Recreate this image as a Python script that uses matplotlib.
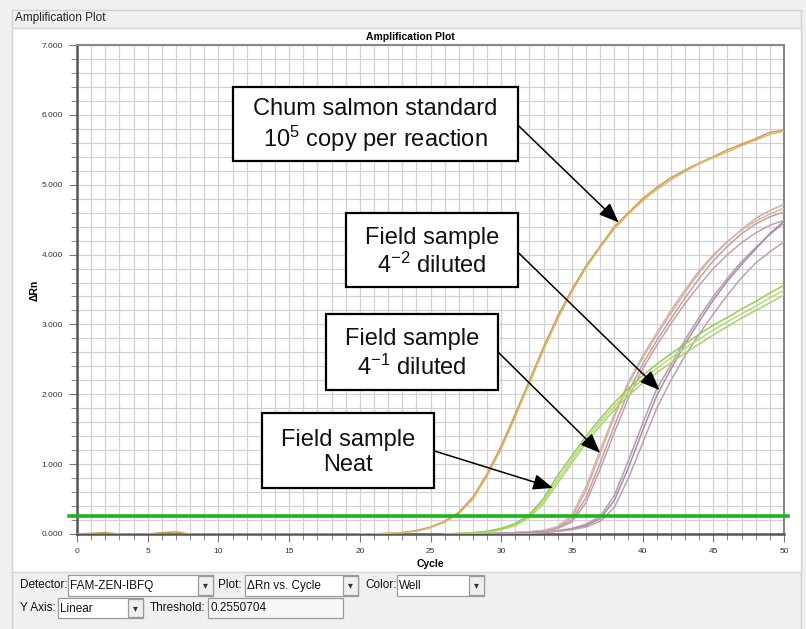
import matplotlib
matplotlib.use('Agg')
import matplotlib.pyplot as plt
from matplotlib.patches import Rectangle
from matplotlib.ticker import MultipleLocator, FormatStrFormatter
import numpy as np

plt.rcParams['font.family'] = ['Liberation Sans', 'DejaVu Sans']
plt.rcParams['mathtext.fontset'] = 'custom'
plt.rcParams['mathtext.rm'] = 'Liberation Sans'
plt.rcParams['mathtext.default'] = 'regular'

# --- data (delta Rn per cycle) ---
threshold = 0.2550704

# chum salmon standard, cycles 0..50 and 20..50
std_a = [0.00, 0.01, 0.02, 0.00, 0.00, 0.00, 0.02, 0.03, 0.00, 0.00, 0.00,
         0.00, 0.00, 0.00, 0.00, 0.00, 0.00, 0.00, 0.00, 0.00, 0.00,
         0.00, 0.01, 0.02, 0.05, 0.10, 0.18, 0.31, 0.53, 0.86, 1.26,
         1.72, 2.20, 2.68, 3.12, 3.50, 3.84, 4.12, 4.40, 4.60, 4.80,
         4.96, 5.10, 5.21, 5.31, 5.40, 5.50, 5.58, 5.66, 5.75, 5.78]
std_b = [0.00, 0.00, 0.01, 0.02, 0.04, 0.09, 0.17, 0.29, 0.50, 0.83, 1.22,
         1.68, 2.16, 2.64, 3.08, 3.47, 3.81, 4.10, 4.37, 4.58, 4.77,
         4.93, 5.07, 5.19, 5.30, 5.39, 5.47, 5.56, 5.64, 5.72, 5.77]

# field sample neat, cycles 26..50
neat_1 = [0.00, 0.01, 0.02, 0.04, 0.08, 0.15, 0.28, 0.51, 0.84, 1.12, 1.40,
          1.65, 1.88, 2.08, 2.27, 2.43, 2.58, 2.72, 2.86, 2.99, 3.10,
          3.22, 3.33, 3.45, 3.56]
neat_2 = [0.00, 0.00, 0.01, 0.03, 0.07, 0.14, 0.27, 0.48, 0.78, 1.07, 1.35,
          1.60, 1.83, 2.03, 2.21, 2.37, 2.52, 2.66, 2.79, 2.92, 3.04,
          3.15, 3.26, 3.38, 3.49]
neat_3 = [0.00, 0.00, 0.01, 0.02, 0.06, 0.12, 0.24, 0.44, 0.73, 1.02, 1.30,
          1.55, 1.78, 1.98, 2.16, 2.31, 2.45, 2.59, 2.72, 2.85, 2.97,
          3.09, 3.20, 3.31, 3.42]

# field sample 4^-1 diluted, cycles 28..50
dil1_a = [0.00, 0.01, 0.01, 0.02, 0.03, 0.05, 0.10, 0.24, 0.62, 1.15, 1.68,
          2.15, 2.52, 2.85, 3.16, 3.46, 3.74, 3.98, 4.18, 4.36, 4.52, 4.63, 4.72]
dil1_b = [0.00, 0.00, 0.01, 0.02, 0.03, 0.05, 0.09, 0.20, 0.52, 1.02, 1.55,
          2.04, 2.43, 2.77, 3.08, 3.38, 3.66, 3.91, 4.12, 4.30, 4.44, 4.54, 4.61]
dil1_c = [0.00, 0.00, 0.01, 0.01, 0.02, 0.04, 0.08, 0.17, 0.45, 0.93, 1.45,
          1.95, 2.36, 2.70, 3.01, 3.30, 3.56, 3.80, 4.00, 4.17, 4.31, 4.42, 4.49]
dil1_d = [0.00, 0.01, 0.01, 0.02, 0.03, 0.05, 0.11, 0.27, 0.68, 1.20, 1.72,
          2.18, 2.55, 2.88, 3.20, 3.50, 3.77, 4.00, 4.19, 4.35, 4.48, 4.58, 4.66]

# field sample 4^-2 diluted, cycles 28..50
dil2_a = [0.00, 0.00, 0.01, 0.01, 0.02, 0.03, 0.05, 0.08, 0.14, 0.25, 0.55,
          1.05, 1.58, 2.08, 2.42, 2.78, 3.10, 3.40, 3.66, 3.90, 4.10, 4.29, 4.45]
dil2_b = [0.00, 0.00, 0.01, 0.01, 0.02, 0.03, 0.04, 0.07, 0.12, 0.22, 0.48,
          0.95, 1.48, 1.98, 2.36, 2.72, 3.04, 3.35, 3.62, 3.86, 4.08, 4.30, 4.48]
dil2_c = [0.00, 0.00, 0.00, 0.01, 0.01, 0.02, 0.04, 0.06, 0.10, 0.18, 0.38,
          0.80, 1.30, 1.80, 2.20, 2.55, 2.86, 3.15, 3.42, 3.67, 3.88, 4.04, 4.18]

curves = [
    (0, std_a, '#c9a04c'), (20, std_b, '#dbb66c'),
    (28, dil1_a, '#cdb0a2'), (28, dil1_b, '#c89c9c'),
    (28, dil1_c, '#c2a0aa'), (28, dil1_d, '#d4b8a8'),
    (28, dil2_a, '#b59ab4'), (28, dil2_b, '#ab8aa6'), (28, dil2_c, '#bfa0b0'),
    (26, neat_3, '#a6d468'), (26, neat_2, '#b4dc78'), (26, neat_1, '#98cc50'),
]

# annotation boxes: text, box (x0, x1, y0, y1), arrow start, arrow tip
notes = [
    ('Chum salmon standard\n10$^{5}$ copy per reaction', (11.0, 31.2, 5.34, 6.40), (31.2, 5.85), (38.3, 4.46)),
    ('Field sample\n4$^{-2}$ diluted', (19.0, 31.2, 3.53, 4.59), (31.2, 4.03), (41.2, 2.06)),
    ('Field sample\n4$^{-1}$ diluted', (17.6, 29.8, 2.06, 3.15), (29.8, 2.60), (37.0, 1.16)),
    ('Field sample\nNeat', (13.1, 25.25, 0.66, 1.73), (25.25, 1.19), (33.66, 0.66)),
]

W, H = 806, 629


def fx(px):
    return px / W


def fy(py):
    return 1 - py / H


fig = plt.figure(figsize=(W / 100, H / 100), dpi=100, facecolor='#f0f0f0')

# window frame
fig.add_artist(Rectangle((fx(12), fy(640)), fx(801) - fx(12), fy(10) - fy(640),
                         transform=fig.transFigure, facecolor='none', edgecolor='#d0d0d0', lw=1, zorder=-2))
fig.add_artist(Rectangle((fx(12), fy(572)), fx(801) - fx(12), fy(28) - fy(572),
                         transform=fig.transFigure, facecolor='white', edgecolor='#d4d4d4', lw=1, zorder=-1))
fig.text(fx(15), fy(18), 'Amplification Plot', fontsize=8.5, color='#222222', va='center')

ax = fig.add_axes([fx(77), fy(534), fx(784) - fx(77), fy(45) - fy(534)])
ax.set_facecolor('white')
ax.set_xlim(0, 50)
ax.set_ylim(0, 7)
ax.xaxis.set_major_locator(MultipleLocator(5))
ax.xaxis.set_minor_locator(MultipleLocator(1))
ax.yaxis.set_major_locator(MultipleLocator(1))
ax.yaxis.set_minor_locator(MultipleLocator(0.2))
ax.yaxis.set_major_formatter(FormatStrFormatter('%.3f'))
ax.grid(which='both', color='#d2d2d2', lw=0.9)
ax.set_axisbelow(True)
ax.tick_params(which='both', direction='out', color='#777777', labelsize=6, labelcolor='#333333')
ax.tick_params(which='major', length=6, pad=4)
ax.tick_params(which='minor', length=4)
for s in ['left', 'bottom']:
    ax.spines[s].set_color('#555555')
    ax.spines[s].set_linewidth(1.8)
for s in ['top', 'right']:
    ax.spines[s].set_color('#888888')
    ax.spines[s].set_linewidth(1.5)

for start, vals, col in curves:
    xs = np.arange(start, start + len(vals))
    ax.plot(xs, vals, color=col, lw=1.1, zorder=3)

ax.axhline(threshold, xmin=-0.012, xmax=1.006, color='#1fb41f', lw=2.6, clip_on=False, zorder=4)

for txt, (x0, x1, y0, y1), start, tip in notes:
    ax.annotate('', xy=tip, xytext=start,
                arrowprops=dict(arrowstyle='-|>,head_length=0.55,head_width=0.22', color='black',
                                lw=1.1, shrinkA=0, shrinkB=0, mutation_scale=22), zorder=5)
    ax.add_patch(Rectangle((x0, y0), x1 - x0, y1 - y0, facecolor='white', edgecolor='black',
                           lw=1.6, zorder=6))
    ax.text((x0 + x1) / 2, (y0 + y1) / 2 - 0.03, txt, ha='center', va='center', fontsize=17,
            linespacing=1.2, color='#111111', zorder=7)

fig.text(fx(410), fy(37), 'Amplification Plot', ha='center', va='center', fontsize=7.5, fontweight='bold')
fig.text(fx(430), fy(564), 'Cycle', ha='center', va='center', fontsize=7.5, fontweight='bold')
fig.text(fx(35), fy(290), 'ΔRn', ha='center', va='center', fontsize=7.5, fontweight='bold', rotation=90)


# bottom controls
def box(x0, x1, y0, y1, face='white'):
    fig.add_artist(Rectangle((fx(x0), fy(y1)), fx(x1) - fx(x0), fy(y0) - fy(y1),
                             transform=fig.transFigure, facecolor=face, edgecolor='#9a9a9a', lw=0.9))


def combo(x0, x1, y0, y1, text):
    box(x0, x1, y0, y1)
    box(x1 - 15, x1, y0 + 1, y1 - 1, face='#efefef')
    fig.text(fx(x1 - 7.5), fy((y0 + y1) / 2), '▾', ha='center', va='center', fontsize=7,
             family='DejaVu Sans', color='#333333')
    fig.text(fx(x0 + 2), fy((y0 + y1) / 2 + 0.5), text, va='center', fontsize=8.5, color='#111111')


def label(x, y, text):
    fig.text(fx(x), fy(y), text, va='center', fontsize=8.5, color='#111111')


label(20, 585.5, 'Detector:')
combo(68, 213, 575, 596, 'FAM-ZEN-IBFQ')
label(218, 585.5, 'Plot:')
combo(245, 358, 575, 596, 'ΔRn vs. Cycle')
label(365, 585.5, 'Color:')
combo(397, 484, 575, 596, 'Well')

label(20, 608, 'Y Axis:')
combo(58, 143, 598, 618, 'Linear')
label(150, 608, 'Threshold:')
box(208, 343, 598, 618, face='#f7f7f7')
label(211, 608, '0.2550704')

fig.savefig('out.png', dpi=100, facecolor=fig.get_facecolor())
